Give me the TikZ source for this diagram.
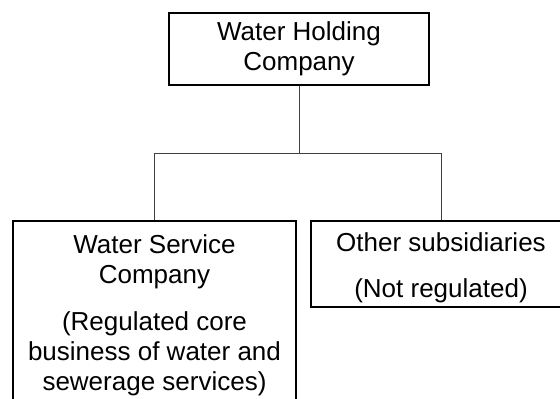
\documentclass[tikz,border=0pt]{standalone}
\usepackage{fontspec}
\setmainfont{Liberation Sans}
\begin{document}
\begin{tikzpicture}[x=1pt,y=-1pt,
  box/.style={draw, rectangle, line width=1.5pt, align=center, inner sep=0pt, font=\fontsize{26}{30}\selectfont},
  link/.style={line width=1pt, draw=black!75}]
\clip (0,0) rectangle (560,399);
\node[box, minimum width=260pt, minimum height=72pt] (hold) at (299,49) {Water Holding\\Company};
\node[box, minimum width=283pt, minimum height=188pt] (svc) at (154.5,315) {Water Service\\Company\\[17pt](Regulated core\\business of water and\\sewerage services)};
\node[box, minimum width=260pt, minimum height=86pt] (oth) at (441,264) {\rule{0pt}{27pt}Other subsidiaries\\[16pt](Not regulated)};
\coordinate (bus) at (299,153);
\draw[link] (hold) -- (bus);
\draw[link] (bus) -| (svc);
\draw[link] (bus) -| (oth);
\end{tikzpicture}
\end{document}
